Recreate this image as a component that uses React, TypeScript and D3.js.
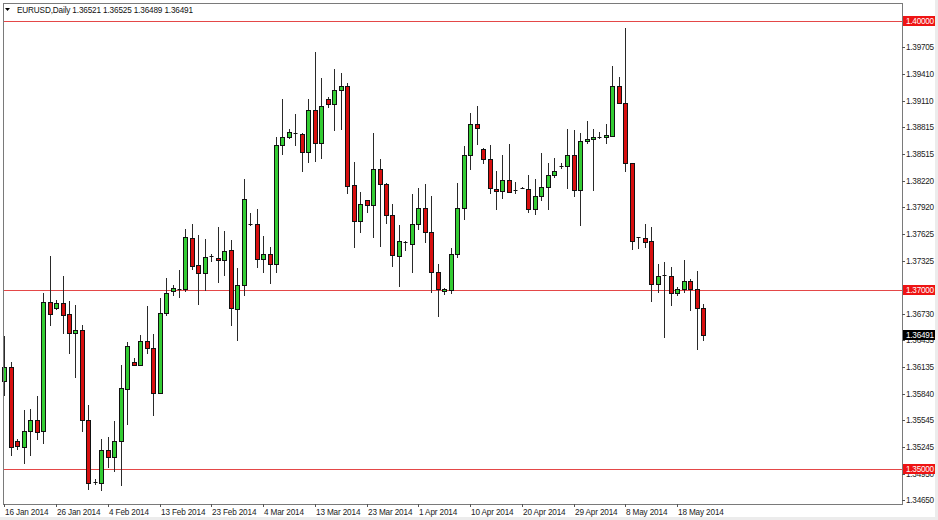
import React from "react";
import * as d3 from "d3";

// ---- data (EURUSD daily) ----
const opens = [
  1.3598, 1.3614, 1.3531, 1.3525, 1.3543, 1.3555, 1.3542, 1.3686, 1.368, 1.3685,
  1.3673, 1.3652, 1.3655, 1.3555, 1.3486, 1.3484, 1.3521, 1.3513, 1.3531, 1.3589,
  1.3619, 1.3616, 1.3643, 1.3635, 1.3585, 1.3674, 1.3699, 1.37, 1.3701, 1.3758,
  1.3728, 1.3719, 1.3737, 1.3735, 1.3733, 1.3744, 1.3679, 1.3705, 1.3772, 1.3773,
  1.3734, 1.374, 1.3729, 1.3862, 1.387, 1.3875, 1.3874, 1.3854, 1.3901, 1.3864,
  1.3913, 1.3907, 1.3923, 1.3928, 1.3817, 1.3777, 1.38, 1.3795, 1.3835, 1.3818,
  1.3784, 1.3738, 1.3753, 1.3751, 1.3773, 1.3791, 1.3764, 1.372, 1.3699, 1.37,
  1.374, 1.3791, 1.3851, 1.3885, 1.3857, 1.3846, 1.3813, 1.381, 1.3823, 1.3811,
  1.3814, 1.3812, 1.379, 1.3805, 1.3815, 1.3828, 1.3838, 1.3838, 1.385, 1.3811,
  1.3866, 1.3868, 1.387, 1.387, 1.3872, 1.3928, 1.3909, 1.3841, 1.3759, 1.3758,
  1.3754, 1.3706, 1.3716, 1.3715, 1.3696, 1.3701, 1.371, 1.3701, 1.368,
];
const highs = [
  1.3648, 1.3619, 1.3533, 1.3566, 1.3567, 1.3582, 1.3696, 1.3738, 1.3689, 1.3715,
  1.3687, 1.3683, 1.3661, 1.3572, 1.3489, 1.3533, 1.3536, 1.3554, 1.3616, 1.3642,
  1.3624, 1.365, 1.3682, 1.3651, 1.3691, 1.3713, 1.3705, 1.3722, 1.3768, 1.3773,
  1.3761, 1.3757, 1.374, 1.377, 1.3766, 1.3756, 1.3724, 1.3824, 1.3786, 1.379,
  1.376, 1.3748, 1.3871, 1.3913, 1.3879, 1.3896, 1.3875, 1.3913, 1.3965, 1.3936,
  1.3915, 1.3946, 1.3942, 1.3931, 1.3843, 1.3809, 1.38, 1.3875, 1.3846, 1.3819,
  1.3796, 1.3772, 1.3754, 1.3807, 1.3814, 1.3818, 1.3805, 1.3729, 1.3702, 1.3747,
  1.3819, 1.386, 1.3897, 1.3905, 1.3858, 1.3862, 1.3833, 1.385, 1.3863, 1.382,
  1.3815, 1.3828, 1.3824, 1.3853, 1.3841, 1.3847, 1.3841, 1.3879, 1.3878, 1.3875,
  1.3888, 1.388, 1.3876, 1.3885, 1.395, 1.3937, 1.3992, 1.3842, 1.3759, 1.3773,
  1.377, 1.3729, 1.3731, 1.3725, 1.3703, 1.3733, 1.3712, 1.3721, 1.3684,
];
const lows = [
  1.3581, 1.3514, 1.3521, 1.3506, 1.3514, 1.3532, 1.3528, 1.366, 1.3677, 1.3651,
  1.3628, 1.3602, 1.3541, 1.3477, 1.3482, 1.3475, 1.3501, 1.3497, 1.3481, 1.3549,
  1.3615, 1.3615, 1.3628, 1.3559, 1.3584, 1.3671, 1.3693, 1.3691, 1.3698, 1.3722,
  1.3683, 1.3699, 1.3731, 1.3708, 1.3715, 1.366, 1.3643, 1.3693, 1.3771, 1.3724,
  1.3719, 1.3706, 1.3719, 1.385, 1.3868, 1.386, 1.3832, 1.3842, 1.3843, 1.3846,
  1.3903, 1.3877, 1.3878, 1.3807, 1.3747, 1.3763, 1.3786, 1.3758, 1.3748, 1.3774,
  1.3726, 1.3703, 1.3743, 1.3719, 1.3767, 1.3752, 1.3696, 1.367, 1.3694, 1.3695,
  1.3735, 1.3778, 1.3834, 1.3862, 1.384, 1.3807, 1.3789, 1.3801, 1.3808, 1.3807,
  1.3812, 1.3786, 1.3783, 1.3799, 1.3789, 1.3825, 1.3835, 1.3813, 1.3804, 1.3771,
  1.3863, 1.381, 1.3868, 1.3863, 1.387, 1.3908, 1.3831, 1.3744, 1.3745, 1.3747,
  1.3686, 1.3696, 1.3646, 1.3682, 1.3693, 1.3696, 1.3676, 1.3633, 1.3643,
];
const closes = [
  1.3614, 1.3525, 1.3526, 1.3543, 1.3555, 1.3541, 1.3686, 1.3673, 1.3685, 1.3672,
  1.3652, 1.3655, 1.3555, 1.3484, 1.3485, 1.3521, 1.3513, 1.3531, 1.359, 1.3637,
  1.3616, 1.3643, 1.3635, 1.3585, 1.3674, 1.3696, 1.3702, 1.3701, 1.3759, 1.3727,
  1.3719, 1.3737, 1.3738, 1.3733, 1.3743, 1.368, 1.3705, 1.3801, 1.3773, 1.3734,
  1.374, 1.3729, 1.3862, 1.387, 1.3876, 1.3875, 1.3854, 1.3901, 1.3864, 1.3905,
  1.3907, 1.3923, 1.3928, 1.3816, 1.3777, 1.3796, 1.3795, 1.3835, 1.3818, 1.3783,
  1.3739, 1.3754, 1.3752, 1.3773, 1.3791, 1.3764, 1.372, 1.3701, 1.3701, 1.374,
  1.3791, 1.3851, 1.3885, 1.3881, 1.3846, 1.3814, 1.381, 1.3823, 1.3809, 1.381,
  1.3812, 1.379, 1.3805, 1.3815, 1.3828, 1.3833, 1.3838, 1.385, 1.3811, 1.3866,
  1.3868, 1.387, 1.387, 1.3873, 1.3928, 1.3909, 1.3841, 1.3754, 1.3758, 1.3753,
  1.3706, 1.3715, 1.3716, 1.3696, 1.3701, 1.371, 1.3701, 1.368, 1.36491,
];

const tickBars = [0, 8, 16, 24, 32, 40, 48, 56, 64, 72, 80, 88, 96, 104];
const tickLabels = [
  "16 Jan 2014", "26 Jan 2014", "4 Feb 2014", "13 Feb 2014", "23 Feb 2014",
  "4 Mar 2014", "13 Mar 2014", "23 Mar 2014", "1 Apr 2014", "10 Apr 2014",
  "20 Apr 2014", "29 Apr 2014", "8 May 2014", "18 May 2014",
];
const priceLabels = [
  1.39705, 1.3941, 1.3911, 1.38815, 1.38515, 1.3822, 1.3792, 1.37625, 1.37325,
  1.3673, 1.36435, 1.36135, 1.3584, 1.35545, 1.35245, 1.3495, 1.3465,
];
const levels = [1.4, 1.37, 1.35];
const lastPrice = 1.36491;
const headerSymbol = "EURUSD,Daily";
const headerValues = [1.36521, 1.36525, 1.36489, 1.36491];

// ---- layout ----
const W = 938;
const H = 520;
const left = 3;
const right = 902;
const top = 3;
const bottom = 504;
const FONT = "'Liberation Sans', Arial, sans-serif";

export default function App() {
  const x = d3.scaleLinear().domain([0, 108]).range([4.3, 703]);
  const y = d3.scaleLinear().domain([1.3465, 1.4]).range([500.4, 21]);
  const fmt = d3.format(".5f");
  const bull = "#33cc33";
  const bear = "#d80f0f";
  const lineRed = "#e44848";
  const boxRed = "#ee1414";

  const candles = opens.map((o, i) => ({
    o,
    h: highs[i],
    l: lows[i],
    c: closes[i],
    i,
  }));

  return (
    <svg
      width={W}
      height={H}
      style={{ position: "absolute", left: 0, top: 0, background: "#fff" }}
      fontFamily={FONT}
    >
      <rect x={0} y={0} width={W} height={H} fill="#fff" />
      <rect x={0} y={517} width={W} height={3} fill="#ececec" />
      <rect x={935} y={0} width={3} height={H} fill="#ececec" />

      {/* horizontal levels */}
      {levels.map((lv) => (
        <line
          key={"lv" + lv}
          x1={left}
          x2={right}
          y1={Math.round(y(lv)) + 0.5}
          y2={Math.round(y(lv)) + 0.5}
          stroke={lineRed}
          strokeWidth={1}
        />
      ))}

      {/* candles */}
      {candles.map((d) => {
        const cx = Math.round(x(d.i));
        const yo = y(d.o);
        const yc = y(d.c);
        const yh = y(d.h);
        const yl = y(d.l);
        const up = d.c >= d.o;
        const bt = Math.round(Math.min(yo, yc));
        const bb = Math.round(Math.max(yo, yc));
        const bh = bb - bt;
        return (
          <g key={"c" + d.i}>
            <line
              x1={cx + 0.5}
              x2={cx + 0.5}
              y1={Math.round(yh)}
              y2={Math.round(yl)}
              stroke="#2a2a2a"
              strokeWidth={1}
            />
            {bh < 2 ? (
              <line
                x1={cx - 1.5}
                x2={cx + 2.5}
                y1={bt + 0.5}
                y2={bt + 0.5}
                stroke="#111"
                strokeWidth={1}
              />
            ) : (
              <rect
                x={cx - 1.5}
                y={bt + 0.5}
                width={4}
                height={bh}
                fill={up ? bull : bear}
                stroke="#111"
                strokeWidth={1}
              />
            )}
          </g>
        );
      })}

      {/* frame */}
      <rect
        x={left + 0.5}
        y={top + 0.5}
        width={right - left}
        height={bottom - top}
        fill="none"
        stroke="#7a7a7a"
        strokeWidth={1}
      />

      {/* price axis */}
      {priceLabels.map((p) => {
        const yy = Math.round(y(p));
        return (
          <g key={"p" + p}>
            <line x1={right} x2={right + 3} y1={yy + 0.5} y2={yy + 0.5} stroke="#555" />
            <text
              x={906}
              y={yy}
              dy="0.35em"
              fontSize={8.2}
              letterSpacing={-0.25}
              fill="#222"
            >
              {fmt(p)}
            </text>
          </g>
        );
      })}
      {levels.map((lv) => {
        const yy = Math.round(y(lv));
        return (
          <g key={"lb" + lv}>
            <rect x={903} y={yy - 5} width={32} height={10} fill={boxRed} />
            <text
              x={906}
              y={yy}
              dy="0.35em"
              fontSize={8.2}
              letterSpacing={-0.25}
              fill="#fff"
            >
              {fmt(lv)}
            </text>
          </g>
        );
      })}
      <g>
        <rect x={903} y={Math.round(y(lastPrice)) - 5} width={32} height={10} fill="#000" />
        <text
          x={906}
          y={Math.round(y(lastPrice))}
          dy="0.35em"
          fontSize={8.2}
          letterSpacing={-0.25}
          fill="#fff"
        >
          {fmt(lastPrice)}
        </text>
      </g>

      {/* date axis */}
      {tickBars.map((b, k) => {
        const xx = Math.round(x(b));
        return (
          <g key={"t" + b}>
            <line x1={xx + 0.5} x2={xx + 0.5} y1={bottom} y2={bottom + 3} stroke="#555" />
            <text x={xx + 1} y={515} fontSize={8.2} letterSpacing={-0.15} fill="#222">
              {tickLabels[k]}
            </text>
          </g>
        );
      })}

      {/* header */}
      <path d="M5,8 L10,8 L7.5,11 Z" fill="#000" />
      <text x={17} y={13} fontSize={8.2} letterSpacing={-0.15} fill="#111">
        {headerSymbol + "  " + headerValues.map((v) => fmt(v)).join(" ")}
      </text>
    </svg>
  );
}
